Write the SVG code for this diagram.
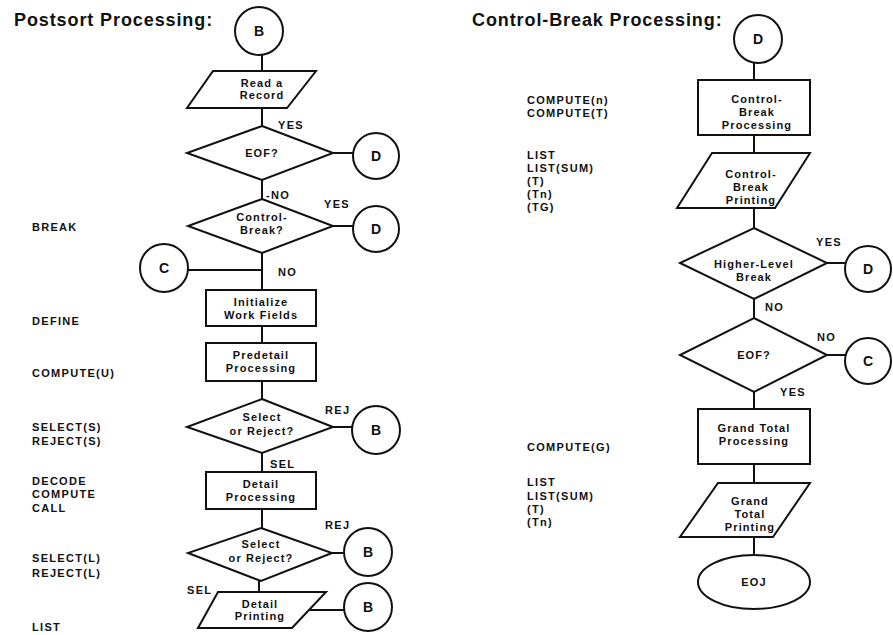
<svg xmlns="http://www.w3.org/2000/svg" width="893" height="635" viewBox="0 0 893 635">
<style>
.s{fill:#fff;stroke:#111;stroke-width:2}
.c{fill:none;stroke:#111;stroke-width:2}
.t{font-family:"Liberation Sans",Arial,sans-serif;font-weight:bold;font-size:11px;letter-spacing:1.1px;text-anchor:middle;fill:#111}
.b{font-family:"Liberation Sans",Arial,sans-serif;font-weight:bold;font-size:14px;text-anchor:middle;fill:#111}
.l{font-family:"Liberation Sans",Arial,sans-serif;font-weight:bold;font-size:11px;letter-spacing:1.3px;fill:#111}
.h{font-family:"Liberation Sans",Arial,sans-serif;font-weight:bold;font-size:18px;letter-spacing:0.9px;fill:#111}
</style>
<rect width="893" height="635" fill="#fff"/>
<text class="h" x="14" y="26">Postsort Processing:</text>
<text class="h" x="472" y="26">Control-Break Processing:</text>

<g id="connectors">
<line class="c" x1="262" y1="55" x2="262" y2="71"/>
<line class="c" x1="262" y1="108" x2="262" y2="126"/>
<line class="c" x1="333" y1="153" x2="353" y2="153"/>
<line class="c" x1="262" y1="180" x2="262" y2="199"/>
<line class="c" x1="333" y1="226" x2="353" y2="226"/>
<line class="c" x1="262" y1="253" x2="262" y2="290"/>
<line class="c" x1="188" y1="270" x2="262" y2="270"/>
<line class="c" x1="262" y1="326" x2="262" y2="343"/>
<line class="c" x1="262" y1="381" x2="262" y2="399"/>
<line class="c" x1="333" y1="427" x2="352" y2="427"/>
<line class="c" x1="262" y1="453" x2="262" y2="472"/>
<line class="c" x1="262" y1="509" x2="262" y2="528"/>
<line class="c" x1="332" y1="553" x2="344" y2="553"/>
<line class="c" x1="259" y1="581" x2="259" y2="592"/>
<line class="c" x1="309" y1="610" x2="344" y2="610"/>
<line class="c" x1="754" y1="63" x2="754" y2="80"/>
<line class="c" x1="754" y1="135" x2="754" y2="153"/>
<line class="c" x1="754" y1="208" x2="754" y2="228"/>
<line class="c" x1="827" y1="263" x2="845" y2="263"/>
<line class="c" x1="754" y1="299" x2="754" y2="318"/>
<line class="c" x1="827" y1="355" x2="845" y2="355"/>
<line class="c" x1="754" y1="392" x2="754" y2="409"/>
<line class="c" x1="754" y1="464" x2="754" y2="483"/>
<line class="c" x1="754" y1="537" x2="754" y2="555"/>
<text class="l" x="278" y="129">YES</text>
<text class="l" x="266" y="199">-NO</text>
<text class="l" x="324" y="208">YES</text>
<text class="l" x="278" y="276">NO</text>
<text class="l" x="325" y="414">REJ</text>
<text class="l" x="270" y="468">SEL</text>
<text class="l" x="325" y="529">REJ</text>
<text class="l" x="187" y="594">SEL</text>
<text class="l" x="816" y="246">YES</text>
<text class="l" x="765" y="311">NO</text>
<text class="l" x="817" y="341">NO</text>
<text class="l" x="780" y="396">YES</text>
</g>

<g id="annotations">
<text class="l" x="32" y="231">BREAK</text>
<text class="l" x="32" y="325">DEFINE</text>
<text class="l" x="32" y="377">COMPUTE(U)</text>
<text class="l" x="32" y="431">SELECT(S)</text>
<text class="l" x="32" y="445">REJECT(S)</text>
<text class="l" x="32" y="485">DECODE</text>
<text class="l" x="32" y="498">COMPUTE</text>
<text class="l" x="32" y="512">CALL</text>
<text class="l" x="32" y="562">SELECT(L)</text>
<text class="l" x="32" y="577">REJECT(L)</text>
<text class="l" x="32" y="631">LIST</text>
<text class="l" x="527" y="104">COMPUTE(n)</text>
<text class="l" x="527" y="117">COMPUTE(T)</text>
<text class="l" x="527" y="159">LIST</text>
<text class="l" x="527" y="172">LIST(SUM)</text>
<text class="l" x="527" y="185">(T)</text>
<text class="l" x="527" y="198">(Tn)</text>
<text class="l" x="527" y="211">(TG)</text>
<text class="l" x="527" y="451">COMPUTE(G)</text>
<text class="l" x="527" y="486">LIST</text>
<text class="l" x="527" y="500">LIST(SUM)</text>
<text class="l" x="527" y="513">(T)</text>
<text class="l" x="527" y="526">(Tn)</text>
</g>

<g id="startB"><circle class="s" cx="259" cy="31" r="24"/><text class="b" x="259" y="36">B</text></g>
<g id="readRecord"><polygon class="s" points="213,71 316,71 287,108 187,108"/><text class="t" x="262" y="87">Read a</text><text class="t" x="262" y="99">Record</text></g>
<g id="eof1"><polygon class="s" points="262,126 333,153 262,180 187,153"/><text class="t" x="262" y="157">EOF?</text></g>
<g id="d1"><circle class="s" cx="376" cy="156" r="23"/><text class="b" x="376" y="161">D</text></g>
<g id="cbreak"><polygon class="s" points="262,199 333,226 262,253 188,226"/><text class="t" x="262" y="221">Control-</text><text class="t" x="262" y="234">Break?</text></g>
<g id="d2"><circle class="s" cx="376" cy="229" r="23"/><text class="b" x="376" y="234">D</text></g>
<g id="c1"><circle class="s" cx="164" cy="268" r="24"/><text class="b" x="164" y="273">C</text></g>
<g id="initWork"><rect class="s" x="206" y="290" width="110" height="36"/><text class="t" x="261" y="306">Initialize</text><text class="t" x="261" y="319">Work Fields</text></g>
<g id="predetail"><rect class="s" x="206" y="343" width="110" height="38"/><text class="t" x="261" y="359">Predetail</text><text class="t" x="261" y="372">Processing</text></g>
<g id="sel1"><polygon class="s" points="262,399 333,427 262,453 187,427"/><text class="t" x="262" y="421">Select</text><text class="t" x="262" y="435">or Reject?</text></g>
<g id="b1"><circle class="s" cx="376" cy="430" r="24"/><text class="b" x="376" y="435">B</text></g>
<g id="detailProc"><rect class="s" x="206" y="472" width="110" height="37"/><text class="t" x="261" y="488">Detail</text><text class="t" x="261" y="501">Processing</text></g>
<g id="sel2"><polygon class="s" points="261,528 332,553 261,581 188,553"/><text class="t" x="261" y="548">Select</text><text class="t" x="261" y="562">or Reject?</text></g>
<g id="b2"><circle class="s" cx="368" cy="552" r="24"/><text class="b" x="368" y="557">B</text></g>
<g id="detailPrint"><polygon class="s" points="218,592 326,592 292,628 198,628"/><text class="t" x="260" y="608">Detail</text><text class="t" x="260" y="620">Printing</text></g>
<g id="b3"><circle class="s" cx="368" cy="607" r="24"/><text class="b" x="368" y="612">B</text></g>

<g id="startD"><circle class="s" cx="758" cy="39" r="24"/><text class="b" x="758" y="44">D</text></g>
<g id="cbProc"><rect class="s" x="698" y="80" width="112" height="55"/><text class="t" x="757" y="103">Control-</text><text class="t" x="757" y="116">Break</text><text class="t" x="757" y="129">Processing</text></g>
<g id="cbPrint"><polygon class="s" points="712,153 810,153 775,208 677,208"/><text class="t" x="751" y="178">Control-</text><text class="t" x="751" y="191">Break</text><text class="t" x="751" y="204">Printing</text></g>
<g id="higher"><polygon class="s" points="754,228 827,263 754,299 680,263"/><text class="t" x="754" y="268">Higher-Level</text><text class="t" x="754" y="281">Break</text></g>
<g id="d3"><circle class="s" cx="868" cy="269" r="23"/><text class="b" x="868" y="274">D</text></g>
<g id="eof2"><polygon class="s" points="754,318 827,355 754,392 680,355"/><text class="t" x="754" y="359">EOF?</text></g>
<g id="c2"><circle class="s" cx="868" cy="361" r="23"/><text class="b" x="868" y="366">C</text></g>
<g id="gtProc"><rect class="s" x="698" y="409" width="112" height="55"/><text class="t" x="754" y="432">Grand Total</text><text class="t" x="754" y="445">Processing</text></g>
<g id="gtPrint"><polygon class="s" points="718,483 810,483 773,537 680,537"/><text class="t" x="750" y="505">Grand</text><text class="t" x="750" y="518">Total</text><text class="t" x="750" y="531">Printing</text></g>
<g id="eoj"><ellipse class="s" cx="754" cy="582" rx="56" ry="27"/><text class="t" x="754" y="586">EOJ</text></g>
</svg>
